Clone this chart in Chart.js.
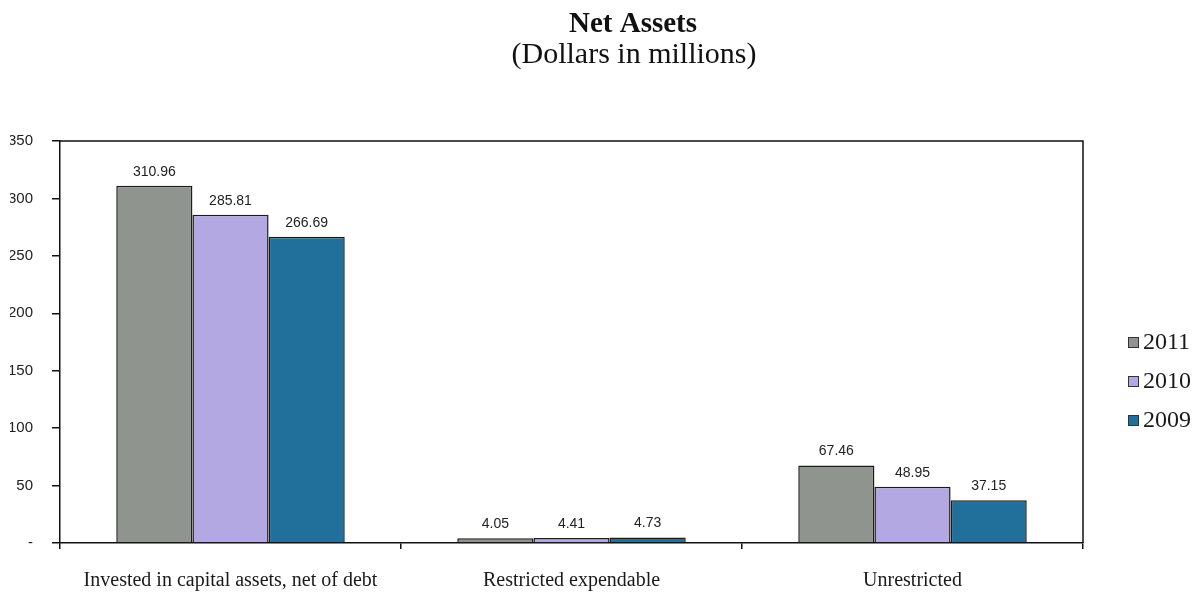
<!DOCTYPE html>
<html>
<head>
<meta charset="utf-8">
<title>Net Assets</title>
<script src="https://cdn.jsdelivr.net/npm/chart.js@4.4.0/dist/chart.umd.min.js"></script>
<style>
  html, body { margin: 0; padding: 0; background: #fff; }
  #wrap { width: 1201px; height: 594px; }
</style>
</head>
<body>
<div id="wrap"><canvas id="netAssetsChart" width="1201" height="594"></canvas></div>
<script>
// Net assets by category, dollars in millions
const categories = ['Invested in capital assets, net of debt', 'Restricted expendable', 'Unrestricted'];
const years = ['2011', '2010', '2009'];
const values2011 = [310.96, 4.05, 67.46];
const values2010 = [285.81, 4.41, 48.95];
const values2009 = [266.69, 4.73, 37.15];
const barColors = ['#8f948f', '#b4a8e2', '#21709b'];

const chartTitle = 'Net Assets';
const chartSubtitle = '(Dollars in millions)';

const yMax = 350;
const yStep = 50;

const serif = "'Liberation Serif', 'Times New Roman', serif";
const sans = "'Liberation Sans', Arial, sans-serif";

// two-line heading, centred a bit right of the plot like the printed report
const heading = {
    id: 'heading',
    afterDraw(chart) {
        const { ctx } = chart;
        ctx.save();
        ctx.fillStyle = '#111';
        ctx.textAlign = 'center';
        ctx.textBaseline = 'alphabetic';
        ctx.font = 'bold 29px ' + serif;
        ctx.fillText(chartTitle, 633, 32);
        ctx.font = '30px ' + serif;
        ctx.fillText(chartSubtitle, 634, 63);
        ctx.restore();
    }
};

// box around the plot area (top + right edges; left/bottom come from the axes)
const plotFrame = {
    id: 'plotFrame',
    afterDraw(chart) {
        const { ctx, chartArea: a } = chart;
        ctx.save();
        ctx.strokeStyle = '#111';
        ctx.lineWidth = 1.5;
        ctx.beginPath();
        ctx.moveTo(a.left, a.top);
        ctx.lineTo(a.right, a.top);
        ctx.lineTo(a.right, a.bottom);
        ctx.stroke();
        ctx.restore();
    }
};

// numbers printed over each bar
const valueLabels = {
    id: 'valueLabels',
    afterDatasetsDraw(chart) {
        const { ctx } = chart;
        ctx.save();
        ctx.font = '14px ' + sans;
        ctx.fillStyle = '#222';
        ctx.textAlign = 'center';
        ctx.textBaseline = 'bottom';
        chart.data.datasets.forEach((ds, i) => {
            chart.getDatasetMeta(i).data.forEach((bar, j) => {
                ctx.fillText(ds.data[j].toFixed(2), bar.x, bar.y - 7);
            });
        });
        ctx.restore();
    }
};

// legend on the right hand side
const sideLegend = {
    id: 'sideLegend',
    afterDraw(chart) {
        const { ctx, chartArea: a } = chart;
        const x = a.right + 45;
        let y = 342;
        ctx.save();
        ctx.font = '24px ' + serif;
        ctx.textBaseline = 'middle';
        ctx.textAlign = 'left';
        chart.data.datasets.forEach(ds => {
            ctx.fillStyle = ds.backgroundColor;
            ctx.fillRect(x, y - 5, 11, 11);
            ctx.strokeStyle = '#333';
            ctx.lineWidth = 1;
            ctx.strokeRect(x + 0.5, y - 4.5, 10, 10);
            ctx.fillStyle = '#1a1a1a';
            ctx.fillText(ds.label, x + 15, y + 1);
            y += 39;
        });
        ctx.restore();
    }
};

const ctx = document.getElementById('netAssetsChart').getContext('2d');

new Chart(ctx, {
    type: 'bar',
    data: {
        labels: categories,
        datasets: [
            { label: years[0], data: values2011, backgroundColor: barColors[0] },
            { label: years[1], data: values2010, backgroundColor: barColors[1] },
            { label: years[2], data: values2009, backgroundColor: barColors[2] }
        ]
    },
    options: {
        responsive: false,
        animation: false,
        layout: { padding: { top: 141, left: 10, right: 118, bottom: 0 } },
        datasets: {
            bar: {
                categoryPercentage: 0.67,
                barPercentage: 1,
                borderColor: '#1c1c1c',
                borderWidth: 1.5
            }
        },
        scales: {
            x: {
                afterFit(scale) { scale.height = 51; },
                grid: {
                    display: true,
                    drawOnChartArea: false,
                    drawTicks: true,
                    tickLength: 6,
                    color: '#111',
                    lineWidth: 1.5
                },
                border: { display: true, color: '#111', width: 1.5 },
                ticks: {
                    color: '#1a1a1a',
                    padding: 20,
                    maxRotation: 0,
                    font: { family: serif, size: 20 }
                }
            },
            y: {
                min: 0,
                max: yMax,
                afterFit(scale) { scale.width = 50; },
                grid: {
                    display: true,
                    drawOnChartArea: false,
                    drawTicks: true,
                    tickLength: 8,
                    color: '#111',
                    lineWidth: 1.5
                },
                border: { display: true, color: '#111', width: 1.5 },
                ticks: {
                    stepSize: yStep,
                    padding: 19,
                    color: '#222',
                    font: { family: sans, size: 15 },
                    callback: v => (v === 0 ? '-' : v)
                }
            }
        },
        plugins: {
            legend: { display: false },
            tooltip: { enabled: false },
            title: { display: false }
        }
    },
    plugins: [heading, plotFrame, valueLabels, sideLegend]
});
</script>
</body>
</html>
